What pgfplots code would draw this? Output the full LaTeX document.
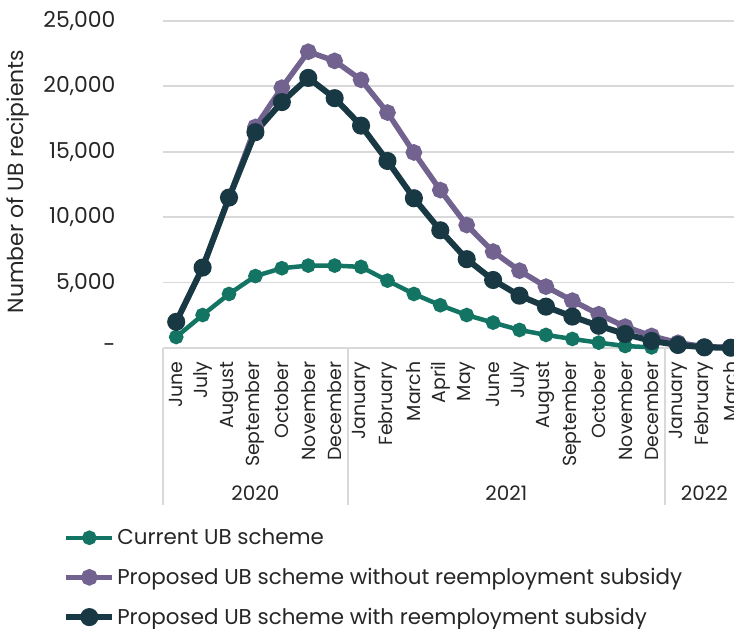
\documentclass[border=0pt]{standalone}
\usepackage{fontspec}
\setmainfont{Poppins}
\usepackage{pgfplots}
\pgfplotsset{compat=1.18}
\definecolor{ubgreen}{HTML}{137463}
\definecolor{ubpurple}{HTML}{72628F}
\definecolor{ubdark}{HTML}{183843}
\definecolor{gridgray}{HTML}{D9D9D9}
\definecolor{txt}{HTML}{262626}
\newcommand{\fs}{\fontsize{20}{24}\selectfont}
\newcommand{\fy}{\fontsize{22}{26}\selectfont}
\newcommand{\fm}{\fontsize{19}{23}\selectfont}
\newcommand{\fl}{\fontsize{21.5}{25}\selectfont}
\begin{document}
\begin{tikzpicture}
\begin{axis}[
  at={(163bp,281bp)}, anchor=south west,
  scale only axis, width=581bp, height=327bp,
  xmin=-0.5, xmax=21.5, ymin=0, ymax=25000,
  clip=false,
  scaled y ticks=false,
  axis line style={draw=none},
  major tick length=0pt,
  ymajorgrids, grid style={gridgray, line width=1.8bp},
  ytick={0,5000,10000,15000,20000,25000},
  yticklabels={-,{5,000},{10,000},{15,000},{20,000},{25,000}},
  yticklabel style={font=\fy, txt, anchor=east, xshift=-44bp},
  xtick={0,...,21},
  xticklabels={June,July,August,September,October,November,December,
    January,February,March,April,May,June,July,August,September,October,November,December,
    January,February,March},
  xticklabel style={font=\fm, txt, rotate=90, anchor=east, xshift=-10bp},
  ylabel={Number of UB recipients},
  ylabel style={font=\fy, txt, at={(axis description cs:0,0.5)}, anchor=center, yshift=145bp, xshift=3bp},
  legend style={at={(-0.177,-0.541)}, anchor=north west, draw=none, fill=none,
    font=\fl, text=txt, row sep=18bp, cells={anchor=west}},
  legend image code/.code={\draw[mark repeat=2,mark phase=2,#1] plot coordinates {(0bp,0bp) (23bp,0bp) (46bp,0bp)};},
  every axis plot/.append style={mark=*},
]
\addplot[ubgreen, line width=4.5bp, mark size=5bp, mark options={fill=ubgreen, draw=ubgreen}] coordinates {
(0,840) (1,2520) (2,4130) (3,5500) (4,6100) (5,6300) (6,6300)
(7,6200) (8,5150) (9,4130) (10,3270) (11,2520) (12,1940) (13,1380)
(14,1000) (15,690) (16,410) (17,150) (18,50)};
\addlegendentry{Current UB scheme}
\addplot[ubpurple, line width=5.5bp, mark size=5.5bp, mark options={fill=ubpurple, draw=ubpurple}] coordinates {
(0,2000) (1,6150) (2,11500) (3,16900) (4,19900) (5,22650) (6,21950)
(7,20500) (8,18000) (9,14950) (10,12070) (11,9400) (12,7370) (13,5910)
(14,4690) (15,3620) (16,2580) (17,1630) (18,920) (19,400) (20,100) (21,50)};
\addlegendentry{Proposed UB scheme without reemployment subsidy}
\addplot[ubdark, line width=6bp, mark size=6bp, mark options={fill=ubdark, draw=ubdark}] coordinates {
(0,2000) (1,6150) (2,11500) (3,16500) (4,18800) (5,20650) (6,19100)
(7,17000) (8,14300) (9,11450) (10,9000) (11,6790) (12,5200) (13,4000)
(14,3160) (15,2400) (16,1700) (17,1070) (18,540) (19,230) (20,50) (21,20)};
\addlegendentry{Proposed UB scheme with reemployment subsidy}
\draw[gridgray, line width=1.8bp] (axis cs:-0.5,0) -- ++(0bp,-157bp);
\draw[gridgray, line width=1.8bp] (axis cs:6.5,0) -- ++(0bp,-157bp);
\draw[gridgray, line width=1.8bp] (axis cs:18.5,0) -- ++(0bp,-157bp);
\node[font=\fs, text=txt] at (axis cs:3,0) [yshift=-145bp] {2020};
\node[font=\fs, text=txt] at (axis cs:12.5,0) [yshift=-145bp] {2021};
\node[font=\fs, text=txt] at (axis cs:20,0) [yshift=-145bp] {2022};
\end{axis}
\pgfresetboundingbox
\path[use as bounding box] (0,0) rectangle (734bp,629bp);
\end{tikzpicture}
\end{document}
